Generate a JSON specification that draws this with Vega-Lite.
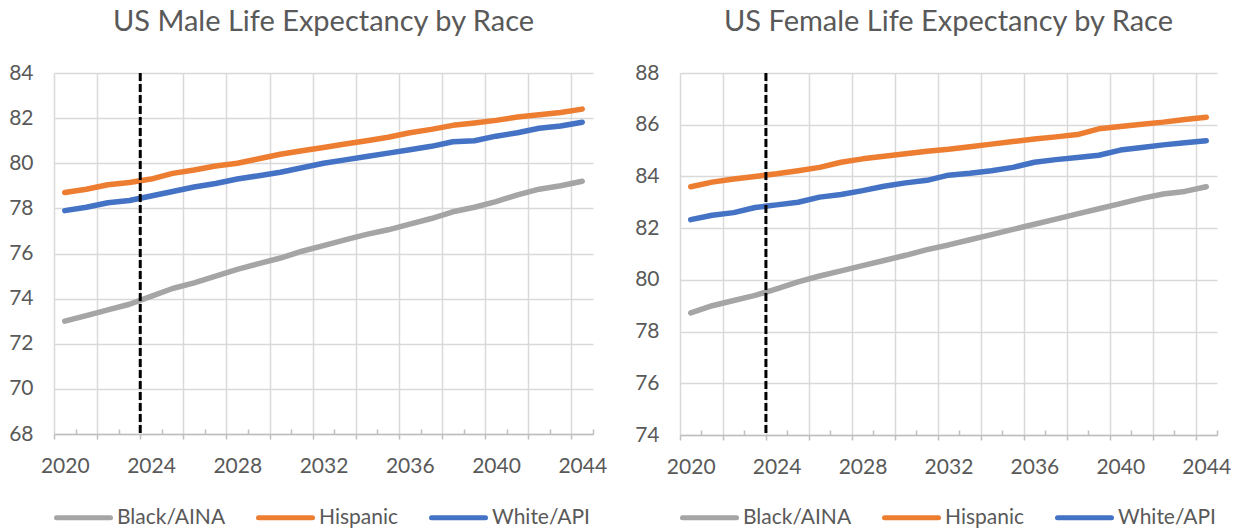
{
  "$schema": "https://vega.github.io/schema/vega-lite/v6.json",
  "background": "white",
  "padding": {"left": 8, "top": 7, "right": 0, "bottom": 0},
  "datasets": {
    "male": [
      {"year": 2020, "Black/AINA": 73.0, "Hispanic": 78.7, "White/API": 77.9},
      {"year": 2021, "Black/AINA": 73.25, "Hispanic": 78.85, "White/API": 78.05},
      {"year": 2022, "Black/AINA": 73.5, "Hispanic": 79.05, "White/API": 78.25},
      {"year": 2023, "Black/AINA": 73.75, "Hispanic": 79.15, "White/API": 78.35},
      {"year": 2024, "Black/AINA": 74.1, "Hispanic": 79.3, "White/API": 78.55},
      {"year": 2025, "Black/AINA": 74.45, "Hispanic": 79.55, "White/API": 78.75},
      {"year": 2026, "Black/AINA": 74.7, "Hispanic": 79.7, "White/API": 78.95},
      {"year": 2027, "Black/AINA": 75.0, "Hispanic": 79.88, "White/API": 79.1},
      {"year": 2028, "Black/AINA": 75.3, "Hispanic": 80.0, "White/API": 79.3},
      {"year": 2029, "Black/AINA": 75.55, "Hispanic": 80.2, "White/API": 79.45},
      {"year": 2030, "Black/AINA": 75.8, "Hispanic": 80.4, "White/API": 79.6},
      {"year": 2031, "Black/AINA": 76.1, "Hispanic": 80.55, "White/API": 79.8},
      {"year": 2032, "Black/AINA": 76.35, "Hispanic": 80.7, "White/API": 80.0},
      {"year": 2033, "Black/AINA": 76.6, "Hispanic": 80.85, "White/API": 80.15},
      {"year": 2034, "Black/AINA": 76.85, "Hispanic": 81.0, "White/API": 80.3},
      {"year": 2035, "Black/AINA": 77.05, "Hispanic": 81.15, "White/API": 80.45},
      {"year": 2036, "Black/AINA": 77.3, "Hispanic": 81.35, "White/API": 80.6},
      {"year": 2037, "Black/AINA": 77.55, "Hispanic": 81.5, "White/API": 80.75},
      {"year": 2038, "Black/AINA": 77.85, "Hispanic": 81.68, "White/API": 80.95},
      {"year": 2039, "Black/AINA": 78.05, "Hispanic": 81.78, "White/API": 81.0},
      {"year": 2040, "Black/AINA": 78.3, "Hispanic": 81.9, "White/API": 81.2},
      {"year": 2041, "Black/AINA": 78.6, "Hispanic": 82.05, "White/API": 81.35},
      {"year": 2042, "Black/AINA": 78.85, "Hispanic": 82.15, "White/API": 81.55},
      {"year": 2043, "Black/AINA": 79.0, "Hispanic": 82.25, "White/API": 81.65},
      {"year": 2044, "Black/AINA": 79.2, "Hispanic": 82.4, "White/API": 81.82}
    ],
    "female": [
      {"year": 2020, "Black/AINA": 78.72, "Hispanic": 83.6, "White/API": 82.33},
      {"year": 2021, "Black/AINA": 79.0, "Hispanic": 83.78, "White/API": 82.5},
      {"year": 2022, "Black/AINA": 79.2, "Hispanic": 83.9, "White/API": 82.6},
      {"year": 2023, "Black/AINA": 79.4, "Hispanic": 84.0, "White/API": 82.8},
      {"year": 2024, "Black/AINA": 79.65, "Hispanic": 84.1, "White/API": 82.9},
      {"year": 2025, "Black/AINA": 79.92, "Hispanic": 84.22, "White/API": 83.0},
      {"year": 2026, "Black/AINA": 80.15, "Hispanic": 84.35, "White/API": 83.2},
      {"year": 2027, "Black/AINA": 80.35, "Hispanic": 84.55, "White/API": 83.3},
      {"year": 2028, "Black/AINA": 80.55, "Hispanic": 84.68, "White/API": 83.45},
      {"year": 2029, "Black/AINA": 80.75, "Hispanic": 84.78, "White/API": 83.62},
      {"year": 2030, "Black/AINA": 80.95, "Hispanic": 84.88, "White/API": 83.75},
      {"year": 2031, "Black/AINA": 81.17, "Hispanic": 84.97, "White/API": 83.85},
      {"year": 2032, "Black/AINA": 81.35, "Hispanic": 85.05, "White/API": 84.05},
      {"year": 2033, "Black/AINA": 81.55, "Hispanic": 85.15, "White/API": 84.12},
      {"year": 2034, "Black/AINA": 81.75, "Hispanic": 85.25, "White/API": 84.22},
      {"year": 2035, "Black/AINA": 81.95, "Hispanic": 85.35, "White/API": 84.35},
      {"year": 2036, "Black/AINA": 82.15, "Hispanic": 85.45, "White/API": 84.55},
      {"year": 2037, "Black/AINA": 82.35, "Hispanic": 85.53, "White/API": 84.65},
      {"year": 2038, "Black/AINA": 82.55, "Hispanic": 85.62, "White/API": 84.73},
      {"year": 2039, "Black/AINA": 82.75, "Hispanic": 85.84, "White/API": 84.82},
      {"year": 2040, "Black/AINA": 82.95, "Hispanic": 85.93, "White/API": 85.02},
      {"year": 2041, "Black/AINA": 83.15, "Hispanic": 86.02, "White/API": 85.12},
      {"year": 2042, "Black/AINA": 83.32, "Hispanic": 86.1, "White/API": 85.22},
      {"year": 2043, "Black/AINA": 83.42, "Hispanic": 86.2, "White/API": 85.3},
      {"year": 2044, "Black/AINA": 83.6, "Hispanic": 86.29, "White/API": 85.38}
    ],
    "marker": [{"year": 2023.5}],
    "minor": [{"year": 2020.5}]
  },
  "config": {
    "view": {"stroke": null},
    "font": "Lato",
    "axis": {
      "labelColor": "#595959",
      "labelFont": "Lato",
      "labelFontSize": 21,
      "gridColor": "#D9D9D9",
      "gridWidth": 1.5,
      "domainColor": "#BFBFBF",
      "domainWidth": 1.5,
      "tickColor": "#BFBFBF",
      "tickWidth": 1.5,
      "title": null
    },
    "title": {"color": "#595959", "font": "Lato", "fontSize": 29, "fontWeight": "normal", "anchor": "middle", "frame": "group", "offset": 25.5},
    "legend": {
      "labelColor": "#595959",
      "labelFont": "Lato",
      "labelFontSize": 21,
      "symbolType": "stroke",
      "symbolSize": 2916,
      "symbolStrokeWidth": 5,
      "labelOffset": 4,
      "columnPadding": 22,
      "title": null
    },
    "concat": {"spacing": 27}
  },
  "resolve": {"scale": {"color": "independent"}, "legend": {"color": "independent"}},
  "hconcat": [
    {
      "title": {"text": "US Male Life Expectancy by Race"},
      "width": 539,
      "height": 361,
      "resolve": {"axis": {"x": "independent"}},
      "layer": [
        {
          "data": {"name": "male"},
          "transform": [{"fold": ["Black/AINA", "Hispanic", "White/API"], "as": ["group", "value"]}],
          "mark": {"type": "line", "strokeWidth": 5.5, "strokeCap": "round", "strokeJoin": "round"},
          "encoding": {
            "x": {
              "field": "year", "type": "quantitative",
              "scale": {"domain": [2019.5, 2044.5], "nice": false, "zero": false},
              "axis": {
                "values": [2019.5, 2021.5, 2023.5, 2025.5, 2027.5, 2029.5, 2031.5, 2033.5, 2035.5, 2037.5, 2039.5, 2041.5, 2043.5],
                "labelExpr": "(datum.value - 2019.5) % 4 == 0 ? format(datum.value + 0.5, 'd') : ''",
                "labelOffset": 10.8,
                "labelBound": false,
                "labelOverlap": false,
                "labelFlush": false,
                "labelPadding": 16,
                "tickSize": 5
              }
            },
            "y": {
              "field": "value", "type": "quantitative",
              "scale": {"domain": [68, 84], "nice": false, "zero": false},
              "axis": {"values": [68, 70, 72, 74, 76, 78, 80, 82, 84], "domain": false, "ticks": false, "labelPadding": 21}
            },
            "color": {
              "field": "group", "type": "nominal",
              "scale": {"domain": ["Black/AINA", "Hispanic", "White/API"], "range": ["#A5A5A5", "#ED7D31", "#4472C4"]},
              "legend": {
                "orient": "none", "direction": "horizontal", "legendX": 0, "legendY": 415,
                "encode": {"symbols": {"update": {"strokeCap": {"value": "round"}}}}
              }
            }
          }
        },
        {
          "data": {"name": "minor"},
          "mark": {"type": "point", "opacity": 0},
          "encoding": {
            "x": {
              "field": "year", "type": "quantitative",
              "axis": {
                "orient": "bottom",
                "values": [2020.5, 2022.5, 2024.5, 2026.5, 2028.5, 2030.5, 2032.5, 2034.5, 2036.5, 2038.5, 2040.5, 2042.5, 2044.5],
                "labels": false, "grid": false, "domain": false, "tickSize": -5
              }
            }
          }
        },
        {
          "data": {"name": "marker"},
          "mark": {"type": "rule", "color": "black", "strokeWidth": 3, "strokeDash": [8, 3]},
          "encoding": {"x": {"field": "year", "type": "quantitative", "axis": null}}
        }
      ]
    },
    {
      "title": {"text": "US Female Life Expectancy by Race"},
      "width": 537,
      "height": 362,
      "resolve": {"axis": {"x": "independent"}},
      "layer": [
        {
          "data": {"name": "female"},
          "transform": [{"fold": ["Black/AINA", "Hispanic", "White/API"], "as": ["group", "value"]}],
          "mark": {"type": "line", "strokeWidth": 5.5, "strokeCap": "round", "strokeJoin": "round"},
          "encoding": {
            "x": {
              "field": "year", "type": "quantitative",
              "scale": {"domain": [2019.5, 2044.5], "nice": false, "zero": false},
              "axis": {
                "values": [2019.5, 2021.5, 2023.5, 2025.5, 2027.5, 2029.5, 2031.5, 2033.5, 2035.5, 2037.5, 2039.5, 2041.5, 2043.5],
                "labelExpr": "(datum.value - 2019.5) % 4 == 0 ? format(datum.value + 0.5, 'd') : ''",
                "labelOffset": 10.7,
                "labelBound": false,
                "labelOverlap": false,
                "labelFlush": false,
                "labelPadding": 16,
                "tickSize": 5
              }
            },
            "y": {
              "field": "value", "type": "quantitative",
              "scale": {"domain": [74, 88], "nice": false, "zero": false},
              "axis": {"values": [74, 76, 78, 80, 82, 84, 86, 88], "domain": false, "ticks": false, "labelPadding": 21}
            },
            "color": {
              "field": "group", "type": "nominal",
              "scale": {"domain": ["Black/AINA", "Hispanic", "White/API"], "range": ["#A5A5A5", "#ED7D31", "#4472C4"]},
              "legend": {
                "orient": "none", "direction": "horizontal", "legendX": 0, "legendY": 415,
                "encode": {"symbols": {"update": {"strokeCap": {"value": "round"}}}}
              }
            }
          }
        },
        {
          "data": {"name": "minor"},
          "mark": {"type": "point", "opacity": 0},
          "encoding": {
            "x": {
              "field": "year", "type": "quantitative",
              "axis": {
                "orient": "bottom",
                "values": [2020.5, 2022.5, 2024.5, 2026.5, 2028.5, 2030.5, 2032.5, 2034.5, 2036.5, 2038.5, 2040.5, 2042.5, 2044.5],
                "labels": false, "grid": false, "domain": false, "tickSize": -5
              }
            }
          }
        },
        {
          "data": {"name": "marker"},
          "mark": {"type": "rule", "color": "black", "strokeWidth": 3, "strokeDash": [8, 3]},
          "encoding": {"x": {"field": "year", "type": "quantitative", "axis": null}}
        }
      ]
    }
  ]
}
